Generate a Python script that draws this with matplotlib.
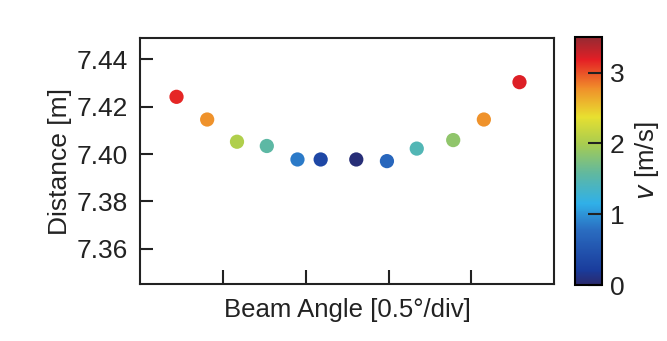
import numpy as np
import matplotlib.pyplot as plt
from matplotlib.colors import LinearSegmentedColormap

plt.rcParams['font.family'] = ['Liberation Sans', 'DejaVu Sans']

# beam angle (in divisions), measured distance and speed of each target
angle = [0.44, 0.81, 1.17, 1.53, 1.90, 2.18, 2.61, 2.98, 3.34, 3.78, 4.15, 4.58]
distance = [7.4242, 7.4146, 7.4052, 7.4034, 7.3977, 7.3977,
            7.3977, 7.3970, 7.4023, 7.4059, 7.4146, 7.4304]
speed = [3.15, 2.75, 2.05, 1.55, 0.85, 0.35, 0.05, 0.7, 1.45, 1.85, 2.75, 3.2]

x_ticks = [1, 2, 3, 4]
y_ticks = [7.36, 7.38, 7.40, 7.42, 7.44]
cbar_ticks = [0, 1, 2, 3]

cmap = LinearSegmentedColormap.from_list('speed', [
    (0.00, '#2a2a6e'), (0.06, '#1a3c9c'), (0.22, '#2a6cc0'),
    (0.33, '#30b0e8'), (0.45, '#60b8a0'), (0.57, '#a8cc50'),
    (0.68, '#e8e030'), (0.80, '#f08a2a'), (0.91, '#e41e25'),
    (1.00, '#962a32')])

fig = plt.figure(figsize=(6.67, 3.41), dpi=100)
ax = fig.add_axes([0.210, 0.167, 0.621, 0.721])
cax = fig.add_axes([0.862, 0.164, 0.040, 0.727])

sc = ax.scatter(angle, distance, c=speed, cmap=cmap, vmin=0, vmax=3.5,
                s=105, edgecolors='none', zorder=3)

ax.set_xlim(0, 5)
ax.set_ylim(7.345, 7.449)
ax.set_xticks(x_ticks)
ax.set_xticklabels([])
ax.set_yticks(y_ticks)
ax.set_yticklabels(['%.2f' % t for t in y_ticks])
ax.tick_params(direction='in', length=9, width=1.5, labelsize=19,
               colors='#222222', pad=9)
ax.tick_params(axis='x', length=10)
for sp in ax.spines.values():
    sp.set_linewidth(1.5)
    sp.set_color('#222222')

ax.set_xlabel('Beam Angle [0.5°/div]', fontsize=18.5, color='#222222', labelpad=1)
ax.set_ylabel('Distance [m]', fontsize=19, color='#222222', labelpad=3)

cb = fig.colorbar(sc, cax=cax, ticks=cbar_ticks)
cb.outline.set_linewidth(1.5)
cb.ax.tick_params(direction='in', length=10, width=1.5, labelsize=19,
                  colors='#222222', pad=6)
cb.set_label('$v$ [m/s]', fontsize=18.5, color='#222222', labelpad=6)

plt.savefig('out.png', dpi=100)
